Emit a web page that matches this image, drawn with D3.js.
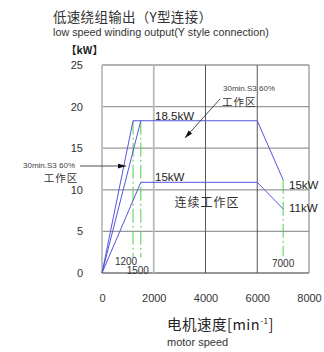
<!DOCTYPE html>
<html><head><meta charset="utf-8">
<script src="https://cdn.jsdelivr.net/npm/d3@7"></script>
<style>
body{margin:0;background:#fff;}
svg{display:block;}
text{font-family:"Liberation Sans",Arial,sans-serif;}
.cjk{font-family:"Noto Sans CJK SC","Noto Sans CJK JP",sans-serif;}
</style></head>
<body><svg id="c" width="324" height="352"></svg>
<script>
// ---- data ----
const xTicks = [0, 2000, 4000, 6000, 8000];
const yTicks = [0, 5, 10, 15, 20, 25];
const s3Curve = [[0,0],[1200,18.3],[6000,18.3],[7000,11.2]];
const s3Curve2 = [[0,0],[1500,18.3]];
const contCurve = [[0,0],[1500,10.9],[6000,10.9],[7000,7.7]];
const markSpeeds = [1200, 1500, 7000];
const markTop = [18.3, 18.3, 11.2];
const markBottom = [1.9, 1.9, 2.0];
const markLabels = ["1200", "1500", "7000"];

const svg = d3.select("#c");
const x = d3.scaleLinear().domain([0,8000]).range([102,309]);
const y = d3.scaleLinear().domain([0,25]).range([273,65]);

// titles
svg.append("text").attr("class","cjk").attr("x",53).attr("y",22).attr("font-size",13.5)
  .attr("fill","#333").attr("letter-spacing",0.3).text("低速绕组输出（Y型连接）");
svg.append("text").attr("x",53).attr("y",36).attr("font-size",10.8).attr("fill","#333")
  .text("low speed winding output(Y style connection)");
svg.append("text").attr("class","cjk").attr("x",66).attr("y",54).attr("font-size",10.5)
  .attr("font-weight","bold").attr("fill","#222").text("【kW】");

// grid
const g = svg.append("g");
yTicks.forEach(v=>{
  g.append("line").attr("x1",x(0)).attr("x2",x(8000)).attr("y1",y(v)).attr("y2",y(v))
   .attr("stroke", v===0 ? "#777" : "#999").attr("stroke-width", 1.3);
});
xTicks.forEach(v=>{
  const light = (v===0||v===2000);
  g.append("line").attr("x1",x(v)).attr("x2",x(v)).attr("y1",y(0)).attr("y2",y(25))
   .attr("stroke", light ? "#bbb" : (v===8000 ? "#777" : "#555"))
   .attr("stroke-width", light ? 1.8 : 1);
});

// axes
const ya = svg.append("g").attr("transform",`translate(${x(0)},0)`)
  .call(d3.axisLeft(y).tickValues(yTicks).tickSize(0).tickPadding(19));
ya.select(".domain").remove();
ya.selectAll("text").attr("font-size",11).attr("fill","#333").attr("font-family","Liberation Sans,Arial,sans-serif");
const xa = svg.append("g").attr("transform",`translate(0,${y(0)})`)
  .call(d3.axisBottom(x).tickValues(xTicks).tickSize(0).tickPadding(21).tickFormat(d3.format("d")));
xa.select(".domain").remove();
xa.selectAll("text").attr("font-size",11).attr("fill","#333").attr("font-family","Liberation Sans,Arial,sans-serif");

// green dash-dot markers
markSpeeds.forEach((s,i)=>{
  svg.append("line").attr("x1",x(s)).attr("x2",x(s)).attr("y1",y(markTop[i])).attr("y2",y(markBottom[i]))
    .attr("stroke","#5c5").attr("stroke-width",1).attr("stroke-dasharray","14,3,2,3");
});
svg.append("text").attr("x",x(1200)-7).attr("y",265).attr("text-anchor","middle").attr("font-size",10).attr("fill","#333").text(markLabels[0]);
svg.append("text").attr("x",x(1500)-3).attr("y",274).attr("text-anchor","middle").attr("font-size",10).attr("fill","#333").text(markLabels[1]);
svg.append("text").attr("x",x(7000)).attr("y",267).attr("text-anchor","middle").attr("font-size",10).attr("fill","#333").text(markLabels[2]);

// curves
const line = d3.line().x(d=>x(d[0])).y(d=>y(d[1]));
[s3Curve, s3Curve2, contCurve].forEach(c=>{
  svg.append("path").attr("d",line(c)).attr("fill","none").attr("stroke","#5555dd").attr("stroke-width",1);
});

// labels on curves
svg.append("text").attr("x",155).attr("y",120).attr("font-size",11.5).attr("fill","#222").text("18.5kW");
svg.append("text").attr("x",155).attr("y",181).attr("font-size",11.5).attr("fill","#222").text("15kW");
svg.append("text").attr("x",289).attr("y",189).attr("font-size",11.5).attr("fill","#222").text("15kW");
svg.append("text").attr("x",289).attr("y",212).attr("font-size",11.5).attr("fill","#222").text("11kW");
svg.append("text").attr("class","cjk").attr("x",207).attr("y",207).attr("text-anchor","middle")
  .attr("font-size",12).attr("letter-spacing",1).attr("fill","#333").text("连续工作区");

// annotations
svg.append("defs").append("marker").attr("id","ah").attr("viewBox","0 0 10 6").attr("refX",10).attr("refY",3)
  .attr("markerWidth",8).attr("markerHeight",5).attr("orient","auto").attr("markerUnits","userSpaceOnUse")
  .append("path").attr("d","M0,0L10,3L0,6Z").attr("fill","#111");
svg.append("text").attr("x",223).attr("y",91).attr("font-size",8).attr("fill","#444").text("30min.S3 60%");
svg.append("text").attr("class","cjk").attr("x",222).attr("y",106).attr("font-size",10.5).attr("letter-spacing",1).attr("fill","#333").text("工作区");
svg.append("line").attr("x1",220).attr("y1",99).attr("x2",185).attr("y2",138)
  .attr("stroke","#222").attr("stroke-width",0.8).attr("marker-end","url(#ah)");
svg.append("text").attr("x",23).attr("y",168).attr("font-size",8).attr("fill","#444").text("30min.S3 60%");
svg.append("text").attr("class","cjk").attr("x",61).attr("y",182).attr("text-anchor","middle").attr("font-size",10.5).attr("letter-spacing",1).attr("fill","#333").text("工作区");
svg.append("line").attr("x1",80).attr("y1",166).attr("x2",126).attr("y2",166)
  .attr("stroke","#222").attr("stroke-width",0.8).attr("marker-end","url(#ah)");

// x axis title
const t = svg.append("text").attr("class","cjk").attr("x",167).attr("y",330).attr("font-size",14.5).attr("fill","#222").attr("letter-spacing",0.5);
t.append("tspan").text("电机速度[min");
t.append("tspan").attr("font-size",8).attr("dy",-6).text("-1");
t.append("tspan").attr("dy",6).text("]");
svg.append("text").attr("x",167).attr("y",346).attr("font-size",11).attr("fill","#333").text("motor speed");
</script></body></html>
